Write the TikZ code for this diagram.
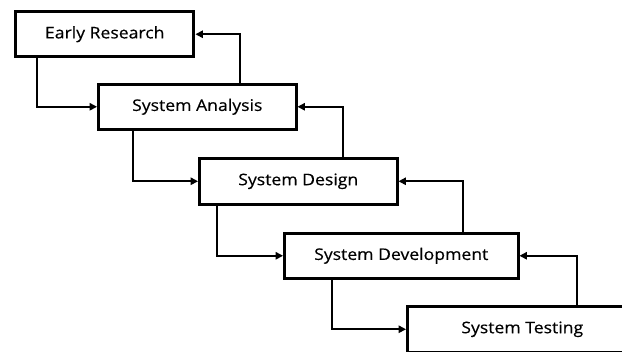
\documentclass[tikz,border=0pt]{standalone}
\usepackage{fontspec}
\setmainfont[FakeStretch=1.1,FakeBold=0.4]{Open Sans}
\usetikzlibrary{arrows.meta,calc}

\tikzset{
	stage/.style = {draw, line width = 1.9pt, anchor = north west, inner sep = 0pt, font = \fontsize{12}{14}\selectfont},
	flow/.style = {draw, line width = 1.2pt, -{Triangle[length=5.5pt,width=5.5pt]}}
}

\begin{document}
\begin{tikzpicture}[x = 0.75pt, y = -0.75pt]
		\useasboundingbox (0,0) rectangle (622,351);
		\clip (0,0) rectangle (622,351);
		\node[stage, line width = 2.6pt, minimum width = 178*0.75pt, minimum height = 45*0.75pt] (er) at (14,10) {Early Research};
		\node[stage, minimum width = 198*0.75pt, minimum height = 45*0.75pt] (sa) at (97,83) {System Analysis};
		\node[stage, minimum width = 198*0.75pt, minimum height = 46*0.75pt] (sd) at (198,157) {System Design};
		\node[stage, minimum width = 234*0.75pt, minimum height = 45*0.75pt] (dev) at (283,232) {System Development};
		\node[stage, minimum width = 230*0.75pt, minimum height = 46*0.75pt] (st) at (406,305) {System Testing};
		\draw[flow] ($(er.south west)+(23,0)$) |- (sa.west);
		\draw[flow] ($(sa.north west)+(143,0)$) |- (er.east);
		\draw[flow] ($(sa.south west)+(36,0)$) |- (sd.west);
		\draw[flow] ($(sd.north west)+(145,0)$) |- (sa.east);
		\draw[flow] ($(sd.south west)+(19,0)$) |- (dev.west);
		\draw[flow] ($(dev.north west)+(180,0)$) |- (sd.east);
		\draw[flow] ($(dev.south west)+(49,0)$) |- (st.west);
		\draw[flow] ($(st.north west)+(171,0)$) |- (dev.east);
\end{tikzpicture}
\end{document}
